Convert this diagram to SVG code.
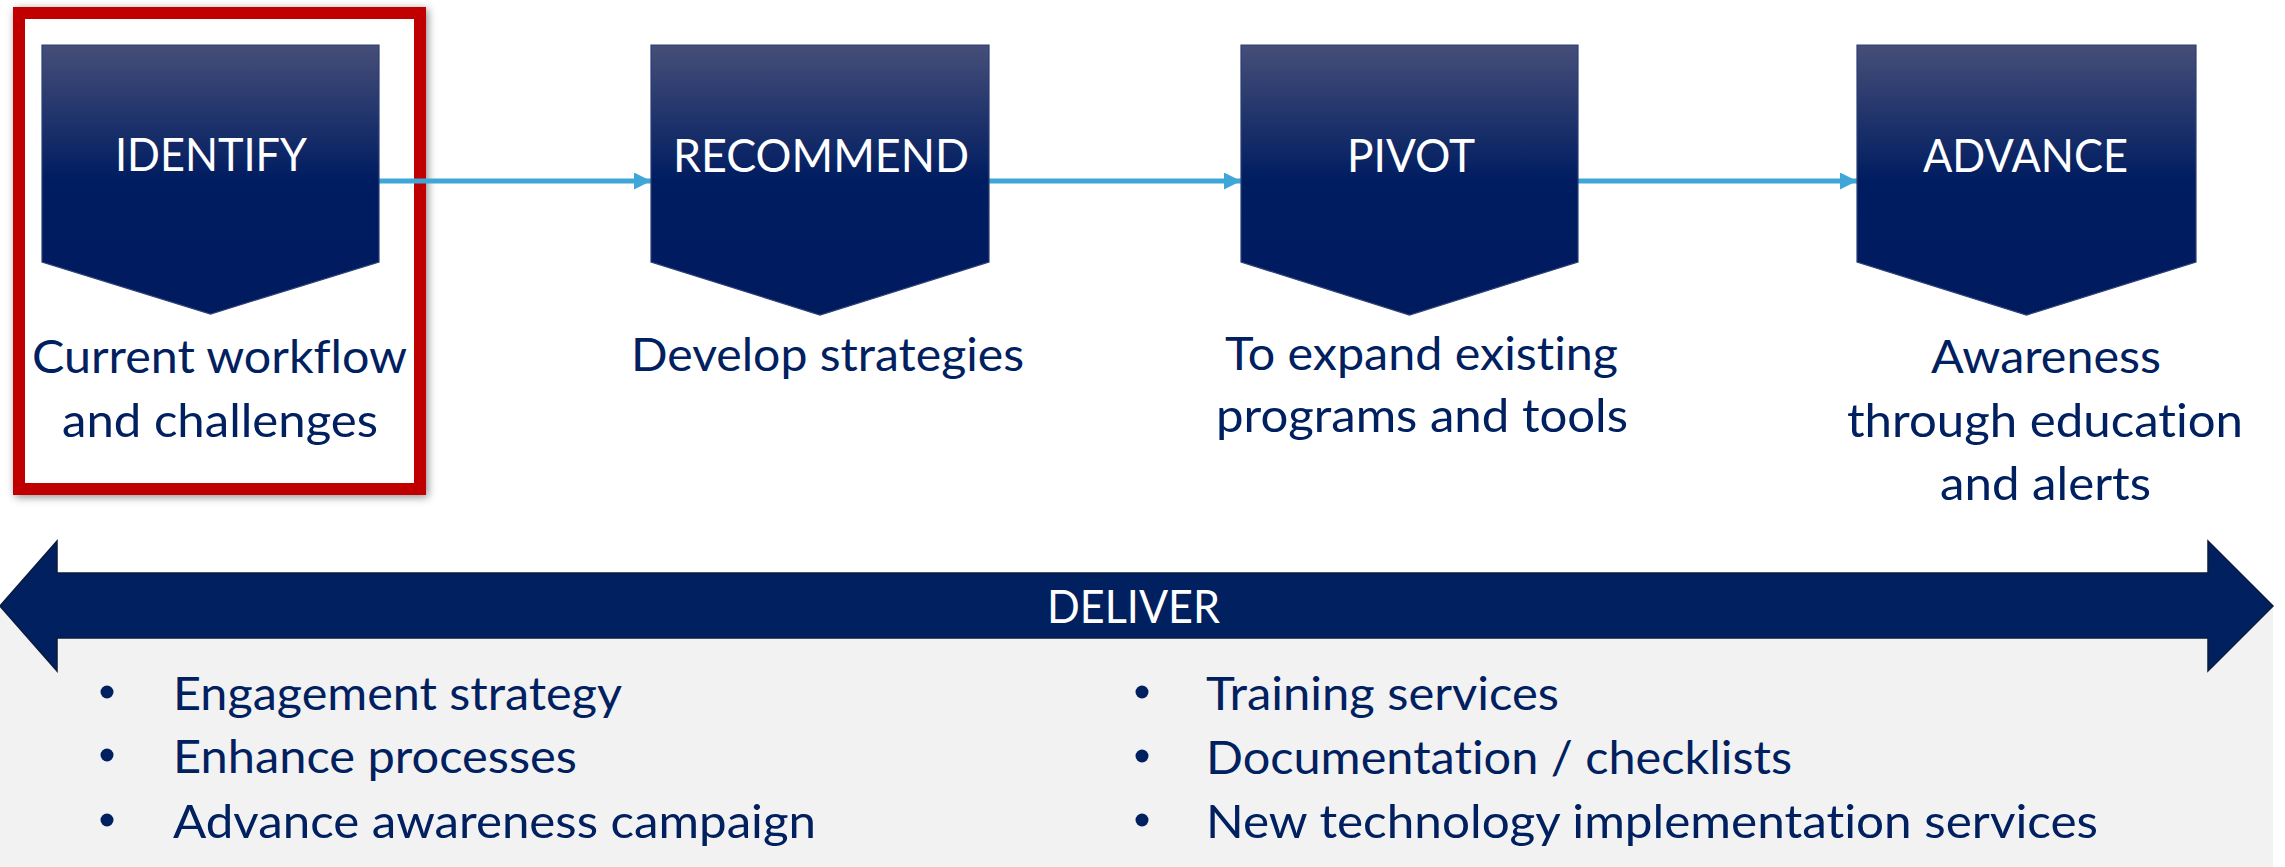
<svg xmlns="http://www.w3.org/2000/svg" width="2285" height="867" viewBox="0 0 2285 867">
<defs>
<linearGradient id="chev" x1="0" y1="0" x2="0" y2="1">
<stop offset="0" stop-color="#464E78"/>
<stop offset="0.5" stop-color="#001D61"/>
<stop offset="1" stop-color="#001A5E"/>
</linearGradient>
<marker id="ah" markerWidth="17" markerHeight="17" viewBox="0 0 17 17" refX="17" refY="8.5" orient="auto" markerUnits="userSpaceOnUse">
<path d="M0,0 L17,8.5 L0,17 Z" fill="#3FA6D8"/>
</marker>
<filter id="shadow" x="-10%" y="-10%" width="120%" height="120%">
<feDropShadow dx="2" dy="2" stdDeviation="4" flood-color="#000" flood-opacity="0.45"/>
</filter>
</defs>
<style>
.chev{fill:url(#chev);stroke:#2C3F78;stroke-width:1.2}
.t{font-family:Lato,"Open Sans","Liberation Sans",sans-serif;font-size:47px;font-variant-ligatures:none;font-feature-settings:"liga" 0,"dlig" 0}
.w{fill:#FFFFFF}
.n{fill:#002060}
.con{stroke:#3FA6D8;stroke-width:5;fill:none}
.bul{fill:#002060}
</style>
<rect x="0" y="606" width="2273" height="261" fill="#F2F2F2"/>
<rect x="19" y="13" width="401" height="476" fill="#FFFFFF" stroke="#C00000" stroke-width="12" filter="url(#shadow)"/>
<g id="connectors">
<line class="con" x1="379" y1="181" x2="651" y2="181" marker-end="url(#ah)"/>
<line class="con" x1="989" y1="181" x2="1241" y2="181" marker-end="url(#ah)"/>
<line class="con" x1="1578" y1="181" x2="1857" y2="181" marker-end="url(#ah)"/>
</g>
<g id="identify">
<polygon class="chev" points="42,45 379,45 379,262 210.5,314 42,262"/>
<text class="t w" x="115" y="171" textLength="192" lengthAdjust="spacingAndGlyphs">IDENTIFY</text>
<text class="t n" x="32" y="373" textLength="375" lengthAdjust="spacingAndGlyphs">Current workflow</text>
<text class="t n" x="62" y="437" textLength="316" lengthAdjust="spacingAndGlyphs">and challenges</text>
</g>
<g id="recommend">
<polygon class="chev" points="651,45 989,45 989,262 820,315 651,262"/>
<text class="t w" x="673" y="172" textLength="296" lengthAdjust="spacingAndGlyphs">RECOMMEND</text>
<text class="t n" x="631" y="371" textLength="393" lengthAdjust="spacingAndGlyphs">Develop strategies</text>
</g>
<g id="pivot">
<polygon class="chev" points="1241,45 1578,45 1578,262 1409.5,315 1241,262"/>
<text class="t w" x="1347" y="172" textLength="128" lengthAdjust="spacingAndGlyphs">PIVOT</text>
<text class="t n" x="1225" y="370" textLength="393" lengthAdjust="spacingAndGlyphs">To expand existing</text>
<text class="t n" x="1216" y="432" textLength="412" lengthAdjust="spacingAndGlyphs">programs and tools</text>
</g>
<g id="advance">
<polygon class="chev" points="1857,45 2196,45 2196,262 2026.5,315 1857,262"/>
<text class="t w" x="1923" y="172" textLength="205" lengthAdjust="spacingAndGlyphs">ADVANCE</text>
<text class="t n" x="1931" y="373" textLength="230" lengthAdjust="spacingAndGlyphs">Awareness</text>
<text class="t n" x="1847" y="437" textLength="396" lengthAdjust="spacingAndGlyphs">through education</text>
<text class="t n" x="1940" y="500" textLength="211" lengthAdjust="spacingAndGlyphs">and alerts</text>
</g>
<g id="deliver">
<path d="M0,606 L57,541 L57,573 L2208,573 L2208,541 L2273,606 L2208,671 L2208,638 L57,638 L57,671 Z" fill="#00205F" stroke="#0B1A3E" stroke-width="1.5"/>
<text class="t w" x="1047" y="623" textLength="173" lengthAdjust="spacingAndGlyphs">DELIVER</text>
</g>
<g id="deliverables">
<circle class="bul" cx="107" cy="692" r="6.5"/>
<circle class="bul" cx="107" cy="755" r="6.5"/>
<circle class="bul" cx="107" cy="820" r="6.5"/>
<text class="t n" x="173" y="710" textLength="449" lengthAdjust="spacingAndGlyphs">Engagement strategy</text>
<text class="t n" x="173" y="773" textLength="404" lengthAdjust="spacingAndGlyphs">Enhance processes</text>
<text class="t n" x="173" y="838" textLength="643" lengthAdjust="spacingAndGlyphs">Advance awareness campaign</text>
<circle class="bul" cx="1142" cy="692" r="6.5"/>
<circle class="bul" cx="1142" cy="756" r="6.5"/>
<circle class="bul" cx="1142" cy="820" r="6.5"/>
<text class="t n" x="1206" y="710" textLength="353" lengthAdjust="spacingAndGlyphs">Training services</text>
<text class="t n" x="1206" y="774" textLength="586" lengthAdjust="spacingAndGlyphs">Documentation / checklists</text>
<text class="t n" x="1206" y="838" textLength="892" lengthAdjust="spacingAndGlyphs">New technology implementation services</text>
</g>
</svg>
